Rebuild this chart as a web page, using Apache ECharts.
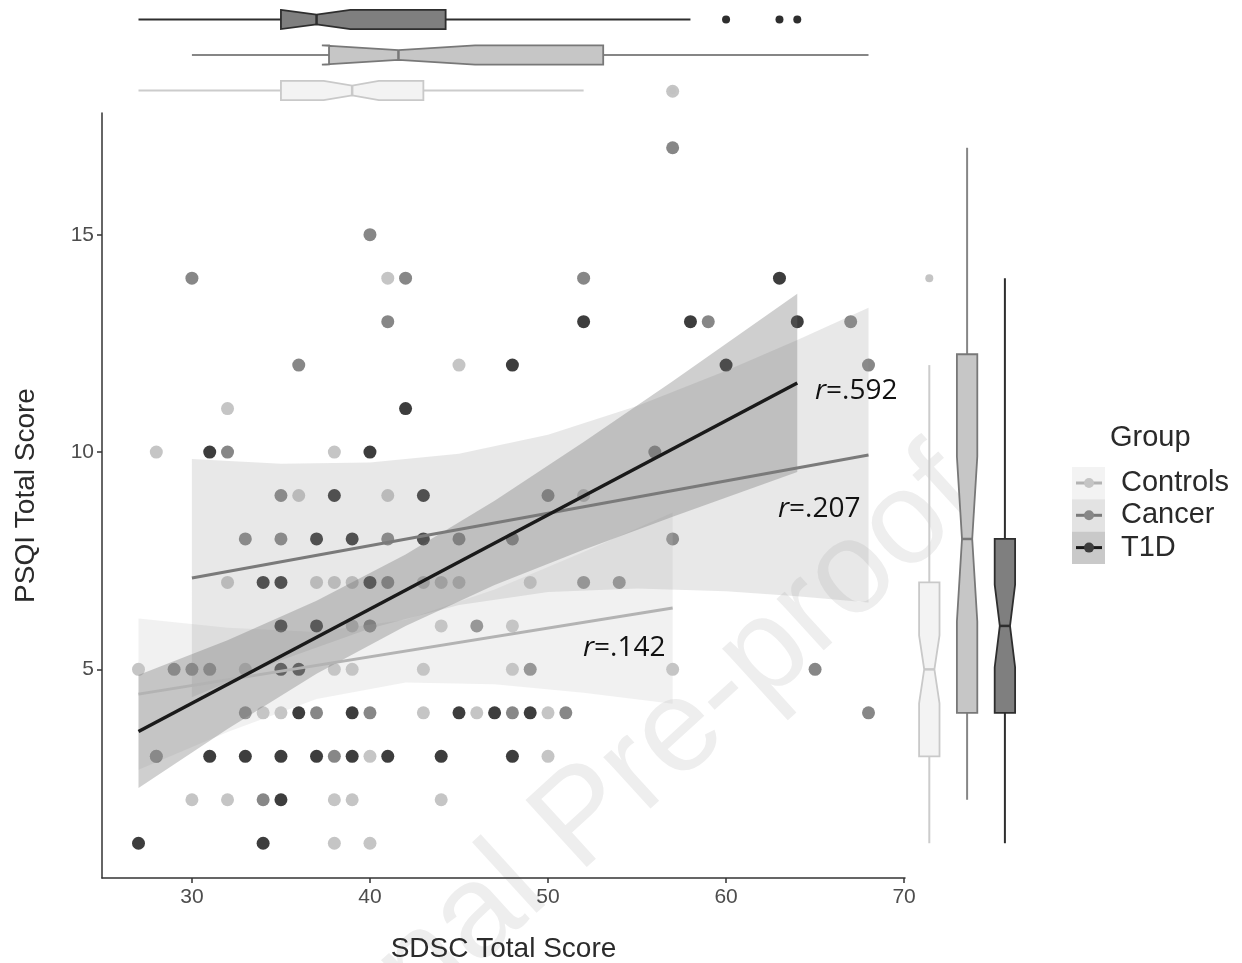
<!DOCTYPE html>
<html>
<head>
<meta charset="utf-8">
<title>PSQI vs SDSC</title>
<script src="https://cdn.jsdelivr.net/npm/echarts@6/dist/echarts.min.js"></script>
<style>
  html, body { margin: 0; padding: 0; background: #fff; }
  #main { width: 1242px; height: 963px; }
</style>
</head>
<body>
<div id="main"></div>
<script>
// points: [SDSC, PSQI]
var controlsPoints = [
  [38, 1], [40, 1],
  [30, 2], [32, 2], [38, 2], [39, 2], [44, 2],
  [28, 3], [40, 3], [50, 3],
  [34, 4], [35, 4], [43, 4], [46, 4], [50, 4],
  [27, 5], [33, 5], [38, 5], [39, 5], [43, 5], [48, 5], [57, 5],
  [39, 6], [40, 6], [44, 6], [48, 6],
  [32, 7], [37, 7], [38, 7], [39, 7], [43, 7], [44, 7], [45, 7], [49, 7],
  [36, 9], [41, 9], [52, 9],
  [28, 10], [38, 10],
  [32, 11],
  [45, 12],
  [41, 14],
  [57, 18.3]
];
var cancerPoints = [
  [34, 2],
  [28, 3], [38, 3],
  [33, 4], [37, 4], [40, 4], [48, 4], [51, 4], [68, 4],
  [29, 5], [30, 5], [31, 5], [49, 5], [65, 5],
  [40, 6], [46, 6],
  [41, 7], [52, 7], [54, 7],
  [33, 8], [35, 8], [41, 8], [45, 8], [48, 8], [57, 8],
  [35, 9], [50, 9],
  [32, 10], [56, 10],
  [36, 12], [68, 12],
  [41, 13], [59, 13], [67, 13],
  [30, 14], [42, 14], [52, 14],
  [40, 15],
  [57, 17]
];
var t1dPoints = [
  [27, 1], [34, 1],
  [35, 2],
  [31, 3], [33, 3], [35, 3], [37, 3], [39, 3], [41, 3], [44, 3], [48, 3],
  [36, 4], [39, 4], [45, 4], [47, 4], [49, 4],
  [35, 5], [36, 5],
  [35, 6], [37, 6],
  [34, 7], [35, 7], [40, 7],
  [37, 8], [39, 8], [43, 8],
  [38, 9], [43, 9],
  [31, 10], [40, 10],
  [42, 11],
  [48, 12], [60, 12],
  [52, 13], [58, 13], [64, 13],
  [63, 14]
];

// fitted lines and confidence bands [x, lower, upper]
var controlsFit = [[27, 4.43], [57, 6.41]];
var cancerFit = [[30, 7.10], [68, 9.93]];
var t1dFit = [[27, 3.57], [64, 11.59]];
var controlsBand = [[27, 2.69, 6.17], [32, 3.56, 5.96], [37, 4.32, 5.86], [42, 4.70, 6.14], [47, 4.66, 6.84], [52, 4.46, 7.70], [57, 4.21, 8.61]];
var cancerBand = [[30, 4.36, 9.84], [35, 5.21, 9.73], [40, 5.94, 9.76], [45, 6.48, 9.96], [50, 6.78, 10.40], [55, 6.86, 11.06], [60, 6.80, 11.87], [64, 6.68, 12.58], [68, 6.54, 13.32]];
var t1dBand = [[27, 2.27, 4.87], [32, 3.63, 5.67], [37, 4.90, 6.58], [42, 6.00, 7.64], [47, 6.94, 8.88], [52, 7.75, 10.23], [57, 8.51, 11.63], [64, 9.54, 13.64]];

// marginal boxplots: [min, q1, median, q3, max, notchLow, notchHigh]
var sdscBoxT1D = [27, 35, 37, 44.25, 58, 35, 38.9];
var sdscBoxCancer = [30, 37.7, 41.6, 53.1, 68, 37.3, 45.9];
var sdscBoxControls = [27, 35, 39, 43, 52, 37.4, 40.5];
var sdscOutT1D = [60, 63, 64];
var sdscOutControls = [57];
var psqiBoxControls = [1, 3, 5, 7, 12, 4.22, 5.78];
var psqiBoxCancer = [2, 4, 8, 12.25, 17, 6.1, 9.9];
var psqiBoxT1D = [1, 4, 6, 8, 14, 5.05, 6.95];
var psqiOutControls = [14];

var xTicks = [30, 40, 50, 60, 70];
var yTicks = [5, 10, 15];
var rLabels = ['.592', '.207', '.142'];

var groupNames = ['Controls', 'Cancer', 'T1D'];
var pointColors = ['#c5c5c5', '#878787', '#3d3d3d'];
var lineColors = ['#b3b3b3', '#7a7a7a', '#1a1a1a'];
var bandColors = ['rgba(200,200,200,0.25)', 'rgba(150,150,150,0.22)', 'rgba(110,110,110,0.33)'];
var keyFills = ['#f3f3f3', '#e3e3e3', '#c9c9c9'];
// box styles per group: fill, stroke, whisker
var boxStyles = {
  Controls: ['#f3f3f3', '#c9c9c9', '#cccccc'],
  Cancer: ['#c6c6c6', '#787878', '#868686'],
  T1D: ['#7f7f7f', '#2e2e2e', '#2e2e2e']
};

var myChart = echarts.init(document.getElementById('main'));

function bandSeries(band, color) {
  return {
    type: 'custom', xAxisIndex: 0, yAxisIndex: 0, z: 3, silent: true,
    data: [0],
    renderItem: function (params, api) {
      var up = band.map(function (d) { return api.coord([d[0], d[2]]); });
      var lo = band.slice().reverse().map(function (d) { return api.coord([d[0], d[1]]); });
      return { type: 'polygon', shape: { points: up.concat(lo) }, style: { fill: color } };
    }
  };
}

// horizontal=true: values along x (top margin); false: values along y (right margin)
function boxSeries(rows, horizontal, axisIdx) {
  return {
    type: 'custom', xAxisIndex: axisIdx, yAxisIndex: axisIdx, z: 5, silent: true,
    data: rows.map(function (r, i) { return [i].concat(r.stats); }),
    renderItem: function (params, api) {
      var row = api.value(0);
      var st = boxStyles[rows[params.dataIndex].name];
      var band = horizontal ? api.size([0, 1])[1] : api.size([1, 0])[0];
      var hh = band * 0.27;
      function pt(v, off) {
        var p = horizontal ? api.coord([v, row + 0.5]) : api.coord([row + 0.5, v]);
        return horizontal ? [p[0], p[1] + off] : [p[0] + off, p[1]];
      }
      var mn = api.value(1), q1 = api.value(2), md = api.value(3), q3 = api.value(4),
          mx = api.value(5), nl = api.value(6), nh = api.value(7);
      var poly = [pt(q1, -hh), pt(nl, -hh), pt(md, -hh / 2), pt(nh, -hh), pt(q3, -hh),
                  pt(q3, hh), pt(nh, hh), pt(md, hh / 2), pt(nl, hh), pt(q1, hh)];
      function seg(a, b, color, w) {
        return { type: 'line', shape: { x1: a[0], y1: a[1], x2: b[0], y2: b[1] }, style: { stroke: color, lineWidth: w } };
      }
      return {
        type: 'group',
        children: [
          seg(pt(mn, 0), pt(q1, 0), st[2], 2),
          seg(pt(q3, 0), pt(mx, 0), st[2], 2),
          { type: 'polygon', shape: { points: poly }, style: { fill: st[0], stroke: st[1], lineWidth: 1.8 } },
          seg(pt(md, -hh / 2), pt(md, hh / 2), st[1], 2.5)
        ]
      };
    }
  };
}

function rText(val, x, y) {
  return {
    type: 'text', x: x, y: y, z: 20,
    style: {
      text: '{i|r}{n|=' + val + '}',
      rich: {
        i: { fontFamily: 'Open Sans', fontStyle: 'italic', fontSize: 28, fill: '#111' },
        n: { fontFamily: 'Open Sans', fontSize: 28, fill: '#111' }
      },
      verticalAlign: 'middle'
    }
  };
}

var legendEls = [{
  type: 'text', x: 1110, y: 438, z: 20,
  style: { text: 'Group', fontFamily: 'Liberation Sans', fontSize: 29, fill: '#2a2a2a', verticalAlign: 'middle' }
}];
groupNames.forEach(function (g, i) {
  var top = 467 + i * 32.3;
  var cy = top + 16;
  legendEls.push({ type: 'rect', z: 20, shape: { x: 1072, y: top, width: 33, height: 32.3 }, style: { fill: keyFills[i] } });
  legendEls.push({ type: 'line', z: 21, shape: { x1: 1076, y1: cy, x2: 1102, y2: cy }, style: { stroke: lineColors[i], lineWidth: 3 } });
  legendEls.push({ type: 'circle', z: 22, shape: { cx: 1089, cy: cy, r: 5 }, style: { fill: pointColors[i] } });
  legendEls.push({ type: 'text', x: 1121, y: cy, z: 20, style: { text: g, fontFamily: 'Liberation Sans', fontSize: 29, fill: '#2a2a2a', verticalAlign: 'middle' } });
});

var option = {
  animation: false,
  backgroundColor: '#fff',
  grid: [
    { left: 102, top: 113, width: 803, height: 765, outerBoundsMode: 'none', containLabel: false },
    { left: 102, top: 1.75, width: 803, height: 106.5, outerBoundsMode: 'none' },
    { left: 910.4, top: 113, width: 113.4, height: 765, outerBoundsMode: 'none' }
  ],
  xAxis: [
    {
      type: 'value', gridIndex: 0, min: 24.95, max: 70.05,
      name: 'SDSC Total Score', nameLocation: 'middle', nameGap: 57,
      nameTextStyle: { fontFamily: 'Liberation Sans', fontSize: 28, color: '#2b2b2b' },
      axisLine: { lineStyle: { color: '#333', width: 1.5 } },
      axisTick: { customValues: xTicks, length: 5, lineStyle: { color: '#333', width: 1.5 } },
      axisLabel: { customValues: xTicks, fontFamily: 'Liberation Sans', fontSize: 21, color: '#4d4d4d', margin: 9 },
      splitLine: { show: false }
    },
    { type: 'value', gridIndex: 1, min: 24.95, max: 70.05, show: false },
    { type: 'value', gridIndex: 2, min: 0, max: 3, show: false }
  ],
  yAxis: [
    {
      type: 'value', gridIndex: 0, min: 0.2, max: 17.8,
      name: 'PSQI Total Score', nameLocation: 'middle', nameGap: 62,
      nameTextStyle: { fontFamily: 'Liberation Sans', fontSize: 28, color: '#2b2b2b' },
      axisLine: { lineStyle: { color: '#333', width: 1.5 } },
      axisTick: { customValues: yTicks, length: 5, lineStyle: { color: '#333', width: 1.5 } },
      axisLabel: { customValues: yTicks, fontFamily: 'Liberation Sans', fontSize: 21, color: '#4d4d4d', margin: 8 },
      splitLine: { show: false }
    },
    { type: 'value', gridIndex: 1, min: 0, max: 3, inverse: true, show: false },
    { type: 'value', gridIndex: 2, min: 0.2, max: 17.8, show: false }
  ],
  graphic: [
    {
      type: 'text', x: 1005, y: 525, rotation: 0.74, z: -5, silent: true,
      style: { text: 'Journal Pre-proof', fontFamily: 'Liberation Sans', fontSize: 132, fill: '#eeeeee', align: 'right', verticalAlign: 'bottom' }
    },
    rText(rLabels[0], 815, 391),
    rText(rLabels[1], 778, 509),
    rText(rLabels[2], 583, 648)
  ].concat(legendEls),
  series: [
    { name: 'Controls', type: 'scatter', data: controlsPoints, symbolSize: 13, z: 2, clip: false, itemStyle: { color: pointColors[0], opacity: 1 } },
    { name: 'Cancer', type: 'scatter', data: cancerPoints, symbolSize: 13, z: 2, itemStyle: { color: pointColors[1], opacity: 1 } },
    { name: 'T1D', type: 'scatter', data: t1dPoints, symbolSize: 13, z: 2, itemStyle: { color: pointColors[2], opacity: 1 } },
    bandSeries(controlsBand, bandColors[0]),
    bandSeries(cancerBand, bandColors[1]),
    bandSeries(t1dBand, bandColors[2]),
    { type: 'line', data: controlsFit, showSymbol: false, z: 4, silent: true, lineStyle: { color: lineColors[0], width: 3 } },
    { type: 'line', data: cancerFit, showSymbol: false, z: 4, silent: true, lineStyle: { color: lineColors[1], width: 3 } },
    { type: 'line', data: t1dFit, showSymbol: false, z: 4, silent: true, lineStyle: { color: lineColors[2], width: 3.5 } },
    boxSeries([
      { name: 'T1D', stats: sdscBoxT1D },
      { name: 'Cancer', stats: sdscBoxCancer },
      { name: 'Controls', stats: sdscBoxControls }
    ], true, 1),
    { type: 'scatter', xAxisIndex: 1, yAxisIndex: 1, symbolSize: 8, z: 6, silent: true,
      data: sdscOutT1D.map(function (v) { return [v, 0.5]; }), itemStyle: { color: '#2e2e2e', opacity: 1 } },
    { type: 'scatter', xAxisIndex: 1, yAxisIndex: 1, symbolSize: 7, z: 6, silent: true,
      data: sdscOutControls.map(function (v) { return [v, 2.5]; }), itemStyle: { color: '#c2c2c2', opacity: 1 } },
    boxSeries([
      { name: 'Controls', stats: psqiBoxControls },
      { name: 'Cancer', stats: psqiBoxCancer },
      { name: 'T1D', stats: psqiBoxT1D }
    ], false, 2),
    { type: 'scatter', xAxisIndex: 2, yAxisIndex: 2, symbolSize: 8, z: 6, silent: true,
      data: psqiOutControls.map(function (v) { return [0.5, v]; }), itemStyle: { color: '#c4c4c4', opacity: 1 } }
  ]
};

myChart.setOption(option);
</script>
</body>
</html>
